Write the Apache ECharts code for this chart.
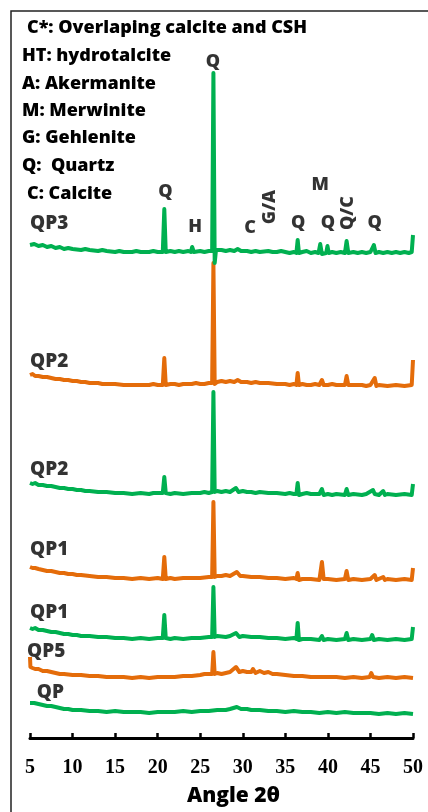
<!DOCTYPE html>
<html>
<head>
<meta charset="utf-8">
<script src="https://cdn.jsdelivr.net/npm/echarts@6/dist/echarts.min.js"></script>
<style>
    html, body { margin: 0; padding: 0; background: #fff; }
    #chart--xrd { width: 428px; height: 812px; }
</style>
</head>
<body>
<div id="chart--xrd"></div>
<script>
// 2θ ticks
const angleTicks = [5, 10, 15, 20, 25, 30, 35, 40, 45, 50];

// vertical offset of each pattern (same units as the intensities)
const sampleNames = ['QP', 'QP5', 'QP1', 'QP1', 'QP2', 'QP2', 'QP3'];
const sampleColors = ['#00b050', '#e46c0a', '#00b050', '#e46c0a', '#00b050', '#e46c0a', '#00b050'];
const sampleOffsets = [24, 60, 98, 158, 243, 352, 485];
const sampleLabelX = [5.8, 4.65, 5, 5, 5, 5, 5];
const sampleLabelY = [45, 86, 125, 188, 268, 376, 514];

// patterns, [2θ, relative intensity]
const patternQP = [[5,11],[5.5,11],[6,10],[6.5,9],[7,8],[7.5,8],[8,7],[8.5,6],[9,5],[9.5,5],[10,4],[11,4],[12,3],[13,3],[14,2],[15,3],[16,2],[17,2],[18,2],[19,1],[20,2],[21,2],[22,2],[23,3],[24,2],[25,3],[26,3],[27,4],[28,4],[28.5,5],[29.3,7],[29.8,5],[30,6],[30.5,5],[31,4],[32,4],[33,3],[34,3],[35,2],[36,3],[37,2],[38,2],[39,1],[40,2],[41,1],[42,2],[43,1],[44,1],[45,1],[46,0],[47,1],[48,0],[49,1],[50,0]];
const patternQP5 = [[5,21],[5.05,11],[5.3,10],[5.6,9],[6,9],[6.5,7],[7,7],[7.5,6],[8,5],[8.5,4],[9,4],[10,3],[11,3],[12,2],[13,2],[14,1],[15,1],[16,1],[17,0],[18,1],[19,0],[20,1],[21,1],[22,1],[23,2],[24,2],[25,3],[25.5,4],[26,4],[26.4,4],[26.55,26],[26.7,4],[27,5],[27.5,4],[28,5],[28.5,6],[29.2,11],[29.6,6],[30,7],[30.5,6],[31,6],[31.2,9],[31.5,5],[32,7],[32.5,5],[33,6],[33.5,4],[34,4],[35,3],[36,2],[37,2],[38,1],[39,1],[40,1],[41,1],[42,0],[43,1],[44,0],[44.9,1],[45.1,5],[45.3,1],[46,0],[47,1],[48,0],[49,1],[50,0]];
const patternQP1g = [[5,12],[5.3,11],[5.6,12],[6,10],[6.5,10],[7,9],[7.5,8],[8,8],[8.5,7],[9,6],[9.5,6],[10,5],[10.5,5],[11,4],[12,4],[13,3],[14,3],[15,2],[16,2],[17,1],[18,2],[19,1],[20,2],[20.6,2],[20.78,25],[20.95,2],[21.5,1],[22,2],[23,1],[24,2],[25,2],[26,3],[26.4,3],[26.55,53],[26.7,3],[27,4],[28,3],[28.5,4],[29.2,7],[29.6,3],[30,4],[31,3],[32,3],[33,2],[34,2],[35,1],[36,2],[36.3,1],[36.45,17],[36.6,0],[37,1],[38,1],[39,0],[39.3,4],[39.5,0],[40,1],[41,0],[42,1],[42.2,7],[42.4,0],[43,1],[44,0],[45,1],[45.2,5],[45.4,0],[46,1],[47,0],[48,1],[49,0],[49.85,1],[50,13]];
const patternQP1o = [[5,13],[5.3,12],[5.6,12],[6,11],[6.5,10],[7,9],[7.5,9],[8,8],[8.5,7],[9,7],[9.5,6],[10,6],[10.5,5],[11,5],[12,4],[13,3],[14,3],[15,2],[16,2],[17,1],[18,2],[19,1],[20,2],[20.6,1],[20.78,23],[20.95,1],[21.5,2],[22,1],[23,2],[24,2],[25,2],[26,3],[26.4,3],[26.55,78],[26.7,3],[27,4],[27.5,4],[28,5],[28.5,4],[29.3,8],[29.7,4],[30,4],[31,3],[32,3],[33,2],[34,2],[35,1],[36,2],[36.3,1],[36.45,7],[36.6,0],[37,1],[38,1],[39,0],[39.1,1],[39.3,18],[39.5,1],[40,1],[41,0],[42,1],[42.2,9],[42.4,0],[43,1],[44,0],[45,1],[45.5,5],[45.7,0],[46.5,3],[46.7,0],[47,1],[48,0],[49,1],[49.85,0],[50,12]];
const patternQP2g = [[5,12],[5.3,11],[5.6,12],[6,10],[6.5,10],[7,9],[7.5,9],[8,8],[8.5,7],[9,7],[9.5,6],[10,6],[10.5,5],[11,5],[11.5,4],[12,4],[13,3],[14,3],[15,2],[16,2],[17,1],[18,2],[19,1],[19.5,2],[20,2],[20.6,2],[20.78,18],[20.95,2],[21.5,1],[22,2],[23,1],[24,2],[25,2],[25.5,3],[26,2],[26.4,3],[26.55,103],[26.7,3],[27,4],[27.5,3],[28,4],[28.5,3],[29.2,7],[29.5,3],[30,4],[30.5,3],[31,3],[31.5,2],[32,3],[33,2],[34,2],[35,1],[35.5,2],[36,1],[36.3,1],[36.45,12],[36.6,0],[37,1],[37.5,2],[38,1],[39,1],[39.3,6],[39.5,0],[40,1],[40.5,0],[41,1],[42,0],[42.2,6],[42.4,0],[43,1],[44,0],[44.5,1],[45.3,5],[45.5,1],[46,0],[46.5,4],[46.7,0],[47,1],[48,0],[49,1],[49.85,0],[50,11]];
const patternQP2o = [[5,11],[5.3,12],[5.6,10],[6,10],[6.5,9],[7,9],[7.5,8],[8,7],[8.5,7],[9,6],[9.5,6],[10,5],[10.5,5],[11,4],[11.5,4],[12,3],[13,3],[13.5,2],[14,2],[15,2],[16,1],[17,1],[18,1],[19,1],[19.5,2],[20,1],[20.6,1],[20.78,28],[20.95,1],[21.5,2],[22,2],[22.5,1],[23,2],[24,2],[24.5,3],[25,2],[25.5,2],[26,3],[26.4,3],[26.55,123],[26.7,2],[27,4],[27.5,5],[28,4],[28.5,5],[29,4],[29.4,6],[29.8,4],[30.5,4],[31,3],[31.5,4],[32,3],[33,3],[34,2],[35,2],[35.5,1],[36,2],[36.3,1],[36.45,13],[36.6,1],[37,2],[37.5,1],[38,1],[38.5,2],[39,1],[39.3,6],[39.5,1],[40,1],[40.5,2],[41,1],[42,1],[42.2,10],[42.4,1],[43,1],[44,1],[44.5,0],[45,1],[45.5,8],[45.7,0],[46,1],[47,0],[48,1],[49,0],[49.85,1],[50,26]];
const patternQP3 = [[5,8],[5.5,9],[6,7],[6.5,8],[7,6],[7.5,7],[8,5],[8.5,6],[9,4],[9.5,5],[10,4],[11,3],[11.5,4],[12,3],[13,2],[13.5,3],[14,2],[15,1],[15.5,2],[16,1],[17,1],[17.5,2],[18,1],[19,1],[19.5,2],[20,1],[20.6,1],[20.78,44],[20.95,1],[21.5,2],[22,1],[22.5,2],[23,1],[23.6,2],[23.9,1],[24.05,6],[24.25,1],[25,2],[25.5,1],[26,2],[26.4,2],[26.55,180],[26.7,-10],[26.85,3],[27.5,3],[28,2],[28.5,3],[29,2],[29.4,4],[29.8,2],[30.5,2],[31,1],[31.5,2],[32,1],[33,2],[33.5,1],[34,1],[34.5,2],[35,1],[35.5,0],[36,1],[36.3,0],[36.45,13],[36.6,0],[37,1],[37.5,2],[38,0],[38.5,1],[38.9,0],[39.1,9],[39.3,-1],[39.8,0],[39.95,7],[40.1,0],[40.5,1],[41,0],[41.5,1],[42,0],[42.2,12],[42.4,0],[43,1],[43.5,0],[44,1],[44.5,0],[45,1],[45.4,8],[45.6,0],[46,1],[46.5,0],[47,1],[47.5,0],[48,1],[48.5,0],[49,1],[49.5,0],[49.85,1],[50,18]];
const patterns = [patternQP, patternQP5, patternQP1g, patternQP1o, patternQP2g, patternQP2o, patternQP3];

// phase marks above QP3
const peakLabelText = ['Q', 'Q', 'H', 'C', 'G/A', 'Q', 'M', 'Q', 'Q/C', 'Q'];
const peakLabelX = [26.5, 20.9, 24.4, 30.85, 33.2, 36.5, 39.1, 40.0, 42.4, 45.5];
const peakLabelY = [676, 546, 511, 510, 531, 515, 553, 515, 525, 515];
const peakLabelRotate = [0, 0, 0, 0, 90, 0, 0, 0, 90, 0];

// phase key, top left
const keyLines = [
    'C*: Overlaping calcite and CSH',
    'HT: hydrotalcite',
    'A: Akermanite',
    'M: Merwinite',
    'G: Gehlenite',
    'Q:  Quartz',
    'C: Calcite'
];
const keyLeft = [27, 22, 22, 22, 22, 22, 27];
const keyTop = [27, 55, 83, 110, 137, 165, 193];

(() => {
    const chart = echarts.init(document.querySelector('#chart--xrd'), null, { renderer: 'canvas' });
    const labelFont = '"Open Sans", "Liberation Sans", sans-serif';

    const lineSeries = patterns.map((pattern, index) => ({
        type: 'line',
        name: sampleNames[index],
        data: pattern.map((point) => [point[0], point[1] + sampleOffsets[index]]),
        showSymbol: false,
        smooth: false,
        silent: true,
        lineStyle: { color: sampleColors[index], width: 4, join: 'round' },
        z: 2 + index
    }));

    const sampleLabelSeries = {
        type: 'scatter',
        symbolSize: 0,
        clip: false,
        silent: true,
        data: sampleNames.map((name, index) => ({
            value: [sampleLabelX[index], sampleLabelY[index]],
            name
        })),
        label: {
            show: true,
            position: 'right',
            distance: 0,
            formatter: (params) => params.name,
            color: '#000',
            fontFamily: labelFont,
            fontWeight: 800,
            fontSize: 19
        },
        z: 20
    };

    const peakLabelSeries = {
        type: 'scatter',
        symbolSize: 0,
        clip: false,
        silent: true,
        data: peakLabelText.map((text, index) => ({
            value: [peakLabelX[index], peakLabelY[index]],
            name: text,
            label: { rotate: peakLabelRotate[index] }
        })),
        label: {
            show: true,
            position: 'inside',
            formatter: (params) => params.name,
            color: '#000',
            fontFamily: labelFont,
            fontWeight: 800,
            fontSize: 18
        },
        z: 20
    };

    const keyGraphics = keyLines.map((line, index) => ({
        type: 'text',
        left: keyLeft[index],
        top: keyTop[index] - 8,
        style: {
            text: line,
            fill: '#000',
            font: '800 18px ' + labelFont
        },
        z: 30
    }));

    chart.setOption({
        animation: false,
        backgroundColor: '#fff',
        grid: { left: 30, right: 15, top: 58, bottom: 74 },
        xAxis: {
            type: 'value',
            min: 5,
            max: 50,
            interval: 5,
            name: 'Angle 2θ',
            nameLocation: 'middle',
            nameGap: 48,
            nameTextStyle: {
                color: '#000',
                fontFamily: labelFont,
                fontWeight: 800,
                fontSize: 21,
                padding: [0, 0, 0, 24]
            },
            splitLine: { show: false },
            axisLine: { show: true, onZero: false, lineStyle: { color: '#000', width: 3 } },
            axisTick: { show: true, inside: true, length: 5, lineStyle: { color: '#000', width: 2.5 } },
            axisLabel: {
                margin: 20,
                color: '#000',
                fontFamily: '"Liberation Serif", "Times New Roman", serif',
                fontWeight: 'bold',
                fontSize: 20,
                formatter: (value) => (angleTicks.includes(value) ? String(value) : '')
            }
        },
        yAxis: {
            type: 'value',
            min: 0,
            max: 680,
            show: false
        },
        graphic: [
            {
                type: 'rect',
                shape: { x: 11, y: 11, width: 440, height: 820 },
                style: { fill: 'none', stroke: '#222', lineWidth: 1.5 },
                silent: true,
                z: 1
            },
            ...keyGraphics
        ],
        series: [...lineSeries, sampleLabelSeries, peakLabelSeries]
    });
})();
</script>
</body>
</html>
